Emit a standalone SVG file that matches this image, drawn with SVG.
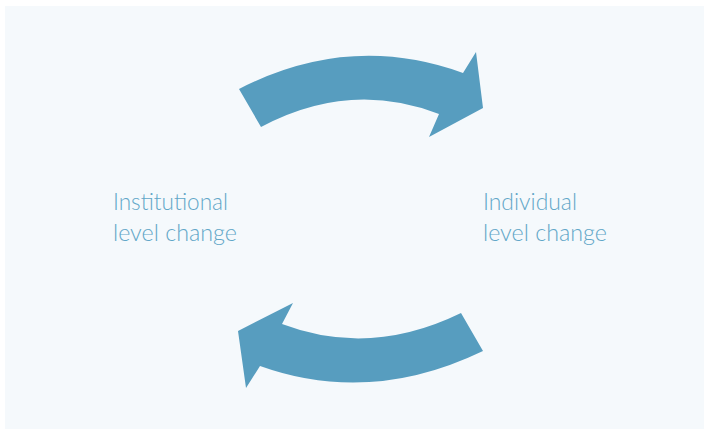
<svg xmlns="http://www.w3.org/2000/svg" width="704" height="429" viewBox="0 0 704 429">
  <style>
    .arrow { fill: #579dbf; }
    .label { font-family: Lato, "Open Sans", "Liberation Sans", sans-serif; font-size: 24px; font-weight: 300; fill: #62a7c8; }
  </style>
  <rect x="0" y="0" width="704" height="429" fill="#ffffff"/>
  <rect x="5" y="6" width="699" height="423" fill="#f5f9fc"/>
  <g id="connectors">
    <path class="arrow" d="M 239,89 Q 350,32 463,73 L 476,52 L 483,108 L 429,137 L 439,114 Q 350,79.5 261,127 Z"/>
    <path class="arrow" d="M 461,313 Q 370,357.5 282,324 L 293,303 L 238,331 L 246,388 L 260,366 Q 370,405.5 483,351 Z"/>
  </g>
  <g id="institutional">
    <text class="label" x="113" y="210" textLength="115" lengthAdjust="spacingAndGlyphs">Institutional</text>
    <text class="label" x="113" y="241" textLength="124" lengthAdjust="spacingAndGlyphs">level change</text>
  </g>
  <g id="individual">
    <text class="label" x="483" y="210" textLength="94" lengthAdjust="spacingAndGlyphs">Individual</text>
    <text class="label" x="483" y="241" textLength="124" lengthAdjust="spacingAndGlyphs">level change</text>
  </g>
</svg>
